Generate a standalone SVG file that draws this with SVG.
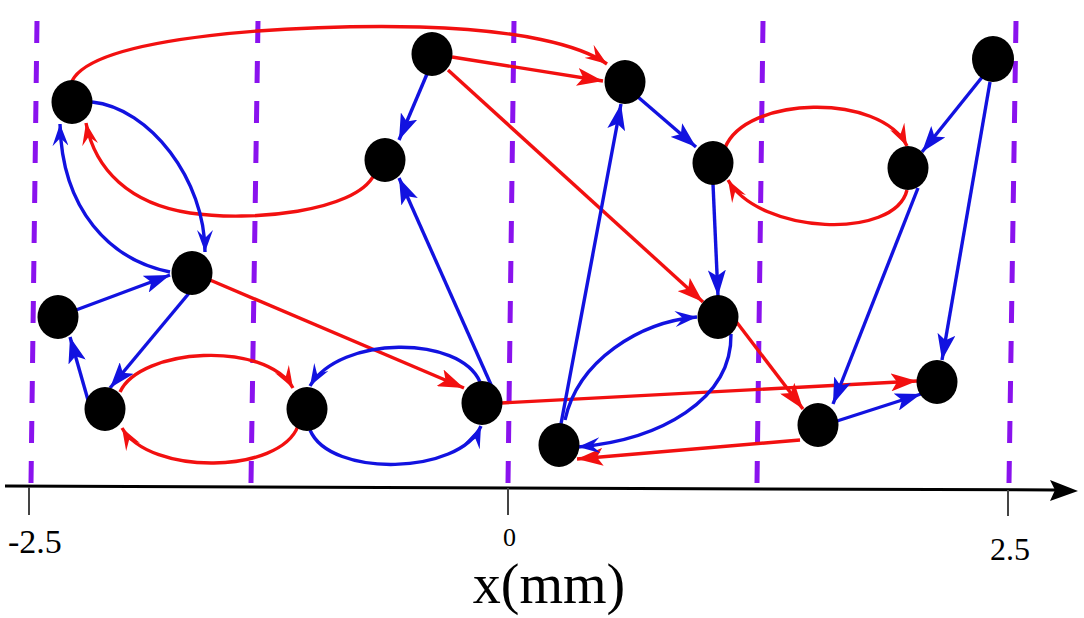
<svg xmlns="http://www.w3.org/2000/svg" width="1084" height="618" viewBox="0 0 1084 618">
<style>
.dash{stroke:#8a12ee;stroke-width:5;stroke-dasharray:22 18;fill:none}
.r{stroke:#f21010;stroke-width:3.4;fill:none}
.b{stroke:#1212e0;stroke-width:3.4;fill:none}
.rs{marker-end:url(#ar)}
.bs{marker-end:url(#ab)}
.rc{marker-end:url(#arc)}
.bc{marker-end:url(#abc)}
.node{fill:#000}
.tick{stroke:#444;stroke-width:2}
.lbl{font-family:"Liberation Serif","Times New Roman",serif;fill:#000}
</style>
<defs>
<marker id="ar" viewBox="0 0 26 18" refX="26" refY="9" markerWidth="26" markerHeight="18" markerUnits="userSpaceOnUse" orient="auto"><path d="M0,0 L26,9 L0,18 L6,9 z" fill="#f21010"/></marker>
<marker id="ab" viewBox="0 0 26 18" refX="26" refY="9" markerWidth="26" markerHeight="18" markerUnits="userSpaceOnUse" orient="auto"><path d="M0,0 L26,9 L0,18 L6,9 z" fill="#1212e0"/></marker>
<marker id="arc" viewBox="0 0 22 16" refX="22" refY="8" markerWidth="22" markerHeight="16" markerUnits="userSpaceOnUse" orient="auto"><path d="M0,0 L22,8 L0,16 L8,8 z" fill="#f21010"/></marker>
<marker id="abc" viewBox="0 0 22 16" refX="22" refY="8" markerWidth="22" markerHeight="16" markerUnits="userSpaceOnUse" orient="auto"><path d="M0,0 L22,8 L0,16 L8,8 z" fill="#1212e0"/></marker>
</defs>
<rect width="1084" height="618" fill="#fff"/>
<g id="guides">
<line class="dash" x1="37" y1="21" x2="31" y2="483"/>
<line class="dash" x1="258" y1="21" x2="251" y2="483"/>
<line class="dash" x1="514" y1="21" x2="508" y2="483"/>
<line class="dash" x1="763" y1="21" x2="757" y2="483"/>
<line class="dash" x1="1016" y1="21" x2="1009" y2="483"/>
</g>
<g id="axis">
<line x1="5" y1="486" x2="1056" y2="490" stroke="#000" stroke-width="3"/>
<polygon points="1078,491 1050,480 1055,490 1050,501" fill="#000"/>
<line class="tick" x1="29" y1="487" x2="29" y2="515"/>
<line class="tick" x1="508" y1="488" x2="508" y2="515"/>
<line class="tick" x1="1008" y1="490" x2="1008" y2="516"/>
<text class="lbl" x="8" y="553" font-size="34">-2.5</text>
<text class="lbl" x="503" y="546" font-size="26">0</text>
<text class="lbl" x="990" y="560" font-size="32">2.5</text>
<text class="lbl" x="549" y="603" font-size="56" text-anchor="middle">x(mm)</text>
</g>
<g id="connectors">
<path class="r rc" d="M72,81 C95,35 300,24 420,27 C520,30 580,45 607,64"/>
<path class="r rs" d="M452,57 L603,81"/>
<path class="r rs" d="M448,70 L703,302"/>
<path class="r rc" d="M374,175 C355,212 250,222 190,213 C130,204 95,170 86,123"/>
<path class="r rs" d="M210,280 L464,388"/>
<path class="r rc" d="M120,392 C140,348 265,340 293,388"/>
<path class="r rc" d="M298,426 C280,474 150,476 122,428"/>
<path class="r rs" d="M501,403 L917,381"/>
<path class="r rs" d="M735,320 L803,409"/>
<path class="r rs" d="M800,440 L577,459"/>
<path class="r rc" d="M725,148 C745,96 880,92 907,146"/>
<path class="r rc" d="M907,190 C895,240 760,235 728,180"/>
<path class="b bc" d="M92,102 C150,108 205,180 205,252"/>
<path class="b bc" d="M170,272 C110,260 62,210 60,124"/>
<path class="b bs" d="M76,310 L170,275"/>
<path class="b bs" d="M190,292 L110,388"/>
<path class="b bs" d="M88,400 L70,337"/>
<path class="b bc" d="M480,382 C460,335 340,335 310,386"/>
<path class="b bc" d="M310,430 C330,478 460,475 481,426"/>
<path class="b bs" d="M492,387 L399,178"/>
<path class="b bs" d="M427,74 L399,140"/>
<path class="b bs" d="M561,424 L621,104"/>
<path class="b bc" d="M565,420 C578,360 640,322 697,317"/>
<path class="b bc" d="M731,334 C732,400 660,440 578,447"/>
<path class="b bs" d="M638,97 L696,147"/>
<path class="b bs" d="M713,184 L718,296"/>
<path class="b bs" d="M983,76 L922,152"/>
<path class="b bs" d="M918,188 L833,404"/>
<path class="b bs" d="M990,82 L942,360"/>
<path class="b bs" d="M837,421 L921,394"/>
</g>
<g id="n1"><ellipse class="node" cx="72" cy="102" rx="20.5" ry="22"/></g>
<g id="n2"><ellipse class="node" cx="432" cy="54" rx="20.5" ry="22"/></g>
<g id="n3"><ellipse class="node" cx="625" cy="82" rx="20.5" ry="22"/></g>
<g id="n4"><ellipse class="node" cx="385" cy="160" rx="20.5" ry="22"/></g>
<g id="n5"><ellipse class="node" cx="713" cy="163" rx="20.5" ry="22"/></g>
<g id="n6"><ellipse class="node" cx="908" cy="168" rx="20.5" ry="22"/></g>
<g id="n7"><ellipse class="node" cx="993" cy="59" rx="21" ry="23"/></g>
<g id="n8"><ellipse class="node" cx="192" cy="273" rx="20.5" ry="22"/></g>
<g id="n9"><ellipse class="node" cx="58" cy="317" rx="20.5" ry="22"/></g>
<g id="n10"><ellipse class="node" cx="105" cy="409" rx="20.5" ry="22"/></g>
<g id="n11"><ellipse class="node" cx="307" cy="409" rx="20.5" ry="22"/></g>
<g id="n12"><ellipse class="node" cx="482" cy="403" rx="20.5" ry="22"/></g>
<g id="n13"><ellipse class="node" cx="559" cy="445" rx="20.5" ry="22"/></g>
<g id="n14"><ellipse class="node" cx="718" cy="317" rx="20.5" ry="22"/></g>
<g id="n15"><ellipse class="node" cx="818" cy="425" rx="20.5" ry="22"/></g>
<g id="n16"><ellipse class="node" cx="937" cy="382" rx="20.5" ry="22"/></g>
</svg>
